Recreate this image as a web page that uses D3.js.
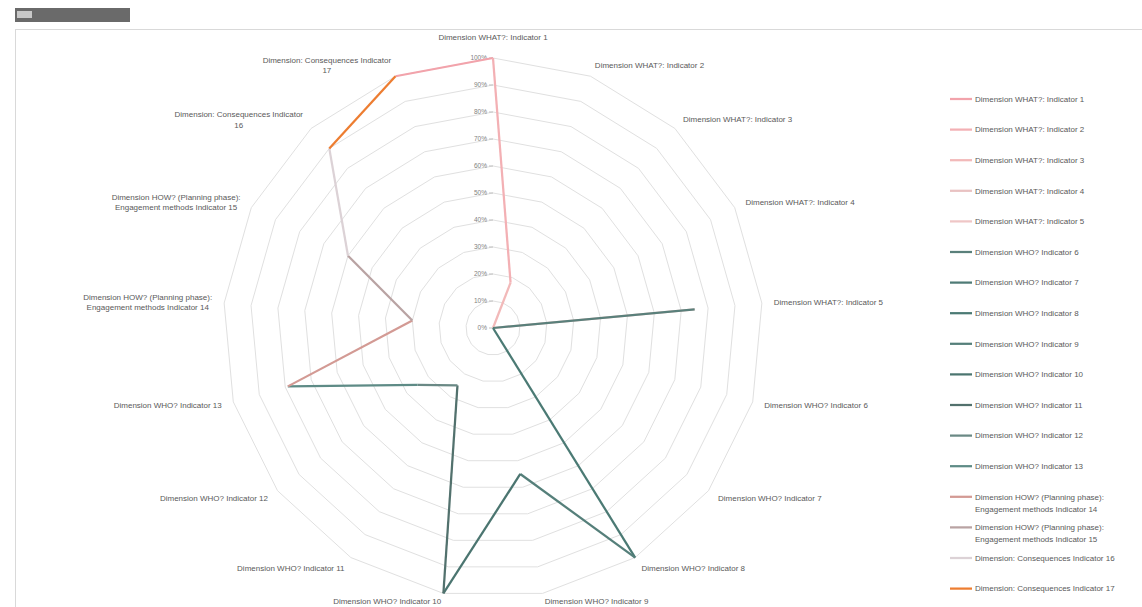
<!DOCTYPE html>
<html>
<head>
<meta charset="utf-8">
<script src="https://cdn.jsdelivr.net/npm/d3@7"></script>
<style>
  body { margin: 0; background: #ffffff; }
  text { font-family: "Liberation Sans", Arial, sans-serif; }
</style>
</head>
<body>
<div id="vis"></div>
<script>
const FRAME_WIDTH = 1142;
const FRAME_HEIGHT = 607;
const CENTER = {x: 493, y: 328};
const RADIUS = 270;

// one series, colours vary by point (Excel style)
const categories = [
  'Dimension WHAT?: Indicator 1',
  'Dimension WHAT?: Indicator 2',
  'Dimension WHAT?: Indicator 3',
  'Dimension WHAT?: Indicator 4',
  'Dimension WHAT?: Indicator 5',
  'Dimension WHO? Indicator 6',
  'Dimension WHO? Indicator 7',
  'Dimension WHO? Indicator 8',
  'Dimension WHO? Indicator 9',
  'Dimension WHO? Indicator 10',
  'Dimension WHO? Indicator 11',
  'Dimension WHO? Indicator 12',
  'Dimension WHO? Indicator 13',
  'Dimension HOW? (Planning phase): Engagement methods Indicator 14',
  'Dimension HOW? (Planning phase): Engagement methods Indicator 15',
  'Dimension: Consequences Indicator 16',
  'Dimension: Consequences Indicator 17'
];
const values = [1.00, 0.18, 0, 0, 0.75, 0, 0, 1.00, 0.55, 1.00, 0.25, 0.35, 0.79, 0.30, 0.60, 0.90, 1.00];
const pointColors = [
  '#f2a3ab', '#f3b0b4', '#f2b9b9', '#e9c2c2', '#efc6c6',
  '#5a807b', '#4f7b76', '#4b7a74', '#557f7a', '#4b7570', '#52716d', '#6a8985', '#5e8b86',
  '#d39a94', '#b9a3a3', '#dcd2d6', '#ed7d31'
];
const tickValues = [0, 0.1, 0.2, 0.3, 0.4, 0.5, 0.6, 0.7, 0.8, 0.9, 1.0];
const tickLabels = ['0%', '10%', '20%', '30%', '40%', '50%', '60%', '70%', '80%', '90%', '100%'];

const N = categories.length;

const FRAME = d3.select('#vis')
  .append('svg')
    .attr('width', FRAME_WIDTH)
    .attr('height', FRAME_HEIGHT);

// header box + chart border
FRAME.append('rect')
  .attr('x', 15).attr('y', 8).attr('width', 115).attr('height', 14)
  .attr('fill', '#6a6a6a');
FRAME.append('rect')
  .attr('x', 17).attr('y', 11).attr('width', 15).attr('height', 7)
  .attr('fill', '#c8c8c8');
FRAME.append('line')
  .attr('x1', 15).attr('x2', FRAME_WIDTH).attr('y1', 29.5).attr('y2', 29.5)
  .attr('stroke', '#d9d9d9');
FRAME.append('line')
  .attr('x1', 15.5).attr('x2', 15.5).attr('y1', 29).attr('y2', FRAME_HEIGHT)
  .attr('stroke', '#d9d9d9');

// scales
const R_SCALE = d3.scaleLinear().domain([0, 1]).range([0, RADIUS]);
const A_SCALE = d3.scaleLinear().domain([0, N]).range([0, 2 * Math.PI]);

const G = FRAME.append('g')
  .attr('transform', 'translate(' + CENTER.x + ',' + CENTER.y + ')');

// grid polygons
const gridLine = d3.lineRadial()
  .angle((d, i) => A_SCALE(i))
  .radius(d => R_SCALE(d))
  .curve(d3.curveLinearClosed);

G.selectAll('.grid')
  .data(tickValues.slice(1))
  .enter()
  .append('path')
    .attr('d', t => gridLine(d3.range(N).map(() => t)))
    .attr('fill', 'none')
    .attr('stroke', '#e0e0e0')
    .attr('stroke-width', 1);

// value axis ticks + labels
G.selectAll('.tick')
  .data(tickValues)
  .enter()
  .append('line')
    .attr('x1', -4).attr('x2', 0)
    .attr('y1', d => -R_SCALE(d)).attr('y2', d => -R_SCALE(d))
    .attr('stroke', '#bfbfbf');

G.selectAll('.tickLabel')
  .data(tickValues)
  .enter()
  .append('text')
    .attr('x', -6)
    .attr('y', d => -R_SCALE(d))
    .attr('dy', '0.35em')
    .attr('text-anchor', 'end')
    .attr('font-size', '6.5px')
    .attr('fill', '#7f7f7f')
    .text((d, i) => tickLabels[i]);

// wrap a label into lines of max chars
function wrap(str, maxChars) {
  const words = str.split(' ');
  const lines = [];
  let cur = '';
  words.forEach(w => {
    if (cur === '') { cur = w; }
    else if ((cur + ' ' + w).length <= maxChars) { cur = cur + ' ' + w; }
    else { lines.push(cur); cur = w; }
  });
  lines.push(cur);
  return lines;
}

// category labels
const LABEL_OFFSET = 12;
const LINE_H = 10.5;
categories.forEach((c, i) => {
  const a = A_SCALE(i);
  const s = Math.sin(a), co = Math.cos(a);
  let x = (R_SCALE(1) + LABEL_OFFSET) * s;
  let y = -(R_SCALE(1) + LABEL_OFFSET) * co;
  if (co > 0.99) { y -= 9; }
  if (co < -0.95) { y -= 4; }   // keep the bottom labels inside the frame
  const anchor = s > 0.1 ? 'start' : (s < -0.1 ? 'end' : 'middle');
  const lines = wrap(c, 33);
  const txt = G.append('text')
    .attr('font-size', '8px')
    .attr('fill', '#595959');
  lines.forEach((l, j) => {
    txt.append('tspan')
      .attr('x', x)
      .attr('y', y + (j - (lines.length - 1) / 2) * LINE_H)
      .attr('dy', '0.35em')
      .text(l);
  });
  if (lines.length > 1) {
    // Excel centres wrapped lines within the label block
    const w = d3.max(txt.selectAll('tspan').nodes(), n => n.getComputedTextLength());
    const cxText = anchor === 'start' ? x + w / 2 : (anchor === 'end' ? x - w / 2 : x);
    txt.selectAll('tspan').attr('x', cxText);
    txt.attr('text-anchor', 'middle');
  } else {
    txt.attr('text-anchor', anchor);
  }
});

// data segments, segment (i-1 -> i) uses the colour of point i
const segLine = d3.lineRadial()
  .angle(d => A_SCALE(d.i))
  .radius(d => R_SCALE(d.v));

const segments = d3.range(N).map(i => {
  const prev = (i - 1 + N) % N;
  return {color: pointColors[i], pts: [{i: prev === N - 1 ? -1 : prev, v: values[prev]}, {i: i, v: values[i]}]};
});
G.selectAll('.seg')
  .data(segments)
  .enter()
  .append('path')
    .attr('d', d => segLine(d.pts))
    .attr('fill', 'none')
    .attr('stroke', d => d.color)
    .attr('stroke-width', 2.25)
    .attr('stroke-linejoin', 'round');

// legend
const LEGEND_X = 950;
const LEGEND_Y = 99;
const LEGEND_STEP = 30.6;
const LEGEND = FRAME.append('g');
categories.forEach((c, i) => {
  const y = LEGEND_Y + i * LEGEND_STEP;
  LEGEND.append('line')
    .attr('x1', LEGEND_X).attr('x2', LEGEND_X + 22)
    .attr('y1', y).attr('y2', y)
    .attr('stroke', pointColors[i])
    .attr('stroke-width', 2.25);
  const lines = wrap(c, 40);
  const t = LEGEND.append('text')
    .attr('font-size', '8px')
    .attr('fill', '#595959');
  lines.forEach((l, j) => {
    t.append('tspan')
      .attr('x', LEGEND_X + 25)
      .attr('y', y + j * 12)
      .attr('dy', '0.35em')
      .text(l);
  });
});
</script>
</body>
</html>
